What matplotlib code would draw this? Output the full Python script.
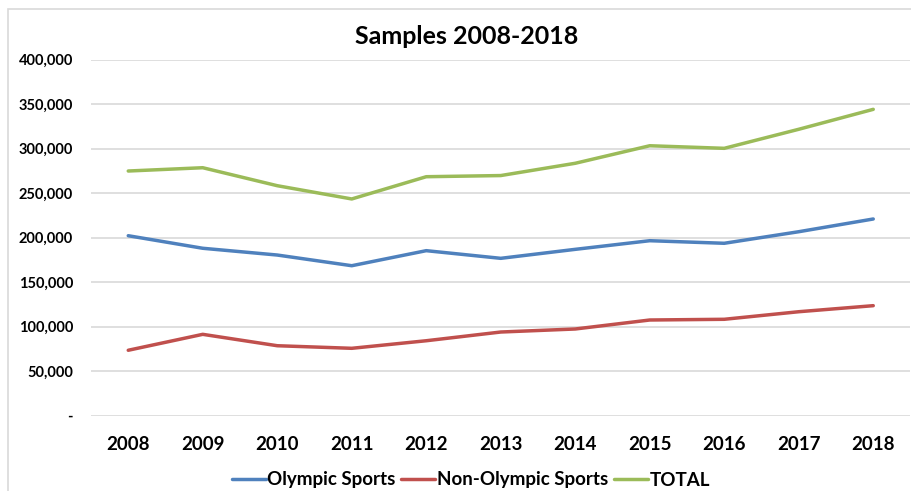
import matplotlib as mpl
mpl.use('Agg')
import matplotlib.pyplot as plt
from matplotlib.patches import Rectangle
from matplotlib.ticker import FuncFormatter

plt.rcParams['font.family'] = ['Lato', 'DejaVu Sans']

anos = ['2008', '2009', '2010', '2011', '2012', '2013', '2014', '2015', '2016', '2017', '2018']
olimpicos = [202000, 187900, 180300, 168300, 185200, 176600, 186700, 196400, 193500, 206500, 220800]
nao_olimpicos = [73300, 91200, 78400, 75500, 84000, 93800, 97200, 107300, 108100, 116600, 123400]
total = [274700, 278400, 258200, 243300, 268300, 269600, 283400, 303100, 300200, 321600, 344000]
nomes = ['Olympic Sports', 'Non-Olympic Sports', 'TOTAL']
cores = ['#4F81BD', '#C0504D', '#9BBB59']


def fmt(v, pos):
    if v == 0:
        return '-'
    return '{:,.0f}'.format(v)


fig = plt.figure(figsize=(9.12, 4.91), dpi=100)
fig.patches.append(Rectangle((8.5 / 912, -0.1), 1.2, 1.1 - 9.5 / 491,
                             transform=fig.transFigure, fill=False,
                             edgecolor='#D9D9D9', linewidth=1.2))

ax = fig.add_axes([91 / 912, 1 - 415.5 / 491, 819.5 / 912, 356 / 491])
x = list(range(len(anos)))
for serie, nome, cor in zip([olimpicos, nao_olimpicos, total], nomes, cores):
    ax.plot(x, serie, color=cor, linewidth=2.5, label=nome, solid_capstyle='round')

ax.set_xlim(-0.5, len(anos) - 0.5)
ax.set_ylim(0, 400000)
ax.set_yticks(range(0, 400001, 50000))
ax.yaxis.set_major_formatter(FuncFormatter(fmt))
ax.set_xticks(x)
ax.set_xticklabels(anos)
ax.grid(axis='y', color='#D9D9D9', linewidth=1.2)
ax.set_axisbelow(True)
for s in ax.spines.values():
    s.set_visible(False)
ax.tick_params(length=0)
ax.tick_params(axis='y', labelsize=10.5, pad=13)
ax.tick_params(axis='x', labelsize=13.5, pad=15)
for t in ax.get_xticklabels() + ax.get_yticklabels():
    t.set_fontweight('bold')

fig.text(467 / 912, 1 - 37 / 491, 'Samples 2008-2018', ha='center', va='center',
         fontsize=18, fontweight='bold')

leg = fig.legend(loc='center', bbox_to_anchor=(471 / 912, 1 - 480 / 491), ncol=3,
                 frameon=False, prop={'weight': 'bold', 'size': 13.5},
                 handlelength=1.8, handletextpad=0.1, columnspacing=0.3)

fig.savefig('out.png', dpi=100)
